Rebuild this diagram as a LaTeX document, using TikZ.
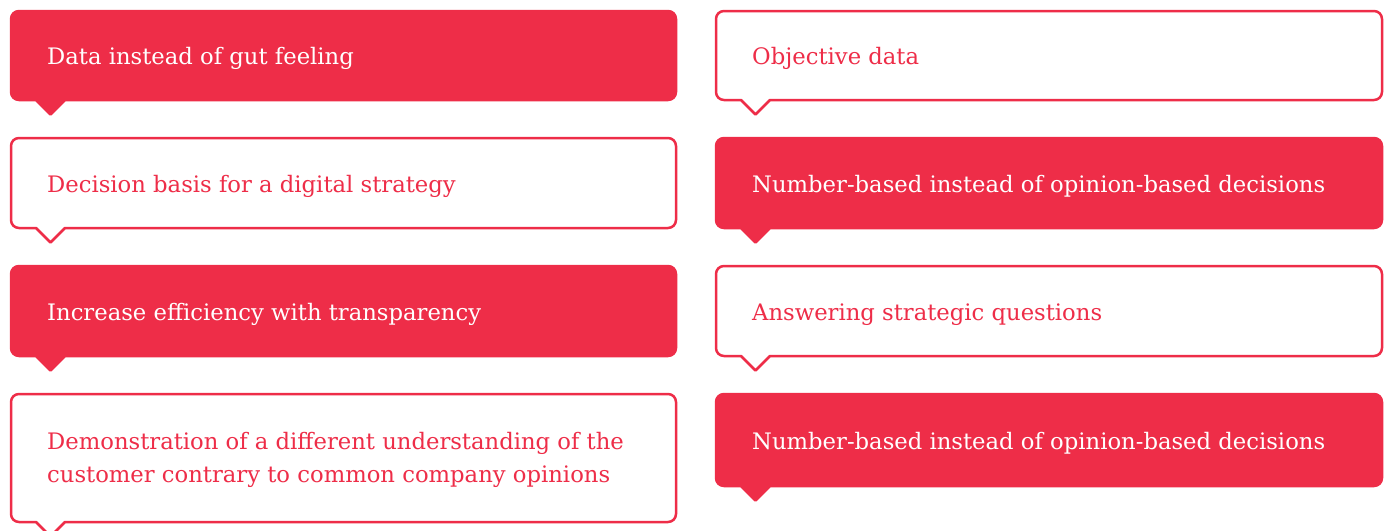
\documentclass[tikz,border=0pt]{standalone}
\usepackage{fontspec}
\setmainfont{DejaVu Serif}
\usepackage{tikz}
\definecolor{brandred}{HTML}{EE2D48}

\tikzset{
    solidbox/.style={draw=brandred, fill=brandred, line width=2.5pt, line join=round},
    openbox/.style={draw=brandred, fill=white, line width=2.5pt, line join=round},
    solidtext/.style={anchor=base west, inner sep=0pt, text=white, font=\fontsize{22.7}{33}\selectfont},
    opentext/.style={anchor=base west, inner sep=0pt, text=brandred, font=\fontsize{22.7}{33}\selectfont, align=left}
}

% speech box: style, left, top, right, bottom (tail sits near the left edge)
\newcommand{\callout}[5]{%
    \path[#1] (#2+8,#3) -- (#4-8,#3) arc[start angle=90, end angle=0, radius=8]
        -- (#4,#5+8) arc[start angle=0, end angle=-90, radius=8]
        -- (#2+54,#5) -- (#2+39.5,#5-14.5) -- (#2+25,#5)
        -- (#2+8,#5) arc[start angle=270, end angle=180, radius=8]
        -- (#2,#3-8) arc[start angle=180, end angle=90, radius=8] -- cycle;}

\begin{document}
\begin{tikzpicture}[x=1pt, y=1pt]
        \useasboundingbox (0,0) rectangle (1391,-530);

        % Boxes
        \callout{solidbox}{11}{-11}{676}{-100}
        \callout{openbox}{716}{-11}{1382}{-100}
        \callout{openbox}{11}{-138}{676}{-228}
        \callout{solidbox}{716}{-138}{1382}{-228}
        \callout{solidbox}{11}{-266}{676}{-356}
        \callout{openbox}{716}{-266}{1382}{-356}
        \callout{openbox}{11}{-394}{676}{-522}
        \callout{solidbox}{716}{-394}{1382}{-486}

        % Labels
        \node[solidtext] (gut) at (47, -64) {Data instead of gut feeling};
        \node[opentext] (objective) at (752, -64) {Objective data};
        \node[opentext] (basis) at (47, -192) {Decision basis for a digital strategy};
        \node[solidtext] (numbers1) at (752, -192) {Number-based instead of opinion-based decisions};
        \node[solidtext] (efficiency) at (47, -320) {Increase efficiency with transparency};
        \node[opentext] (questions) at (752, -320) {Answering strategic questions};
        \node[opentext] (customer) at (47, -482) {Demonstration of a different understanding of the\\customer contrary to common company opinions};
        \node[solidtext] (numbers2) at (752, -449) {Number-based instead of opinion-based decisions};
    \end{tikzpicture}
\end{document}
